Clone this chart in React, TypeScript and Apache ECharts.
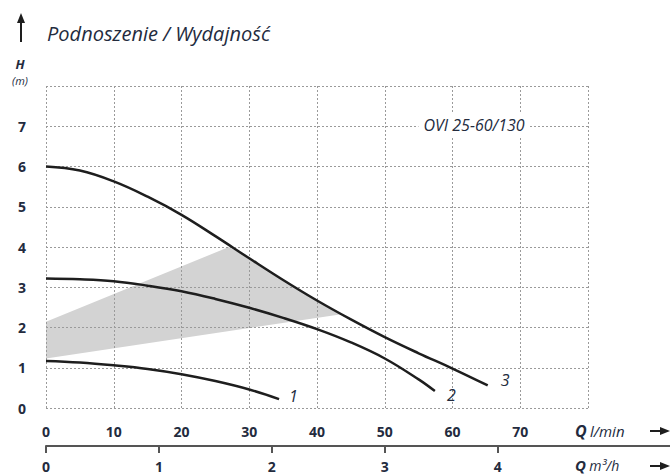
import { useEffect, useRef } from "react";
import * as echarts from "echarts";

// Axis ticks
const qLminTicks = [0, 10, 20, 30, 40, 50, 60, 70];
const hTicks = [0, 1, 2, 3, 4, 5, 6, 7];
const qM3hTicks = [0, 1, 2, 3, 4];

// Pump curves (Q in l/min, H in m)
const curve1Q = [0, 5, 10, 15, 20, 25, 30, 34.4];
const curve1H = [1.17, 1.13, 1.06, 0.97, 0.84, 0.67, 0.46, 0.22];

const curve2Q = [0, 5, 10, 15, 20, 25, 30, 35, 40, 45, 50, 55, 57.4];
const curve2H = [3.22, 3.2, 3.15, 3.04, 2.9, 2.71, 2.49, 2.24, 1.96, 1.63, 1.23, 0.71, 0.42];

const curve3Q = [0, 5, 10, 15, 20, 25, 30, 35, 40, 45, 50, 55, 60, 65.2];
const curve3H = [6.0, 5.9, 5.63, 5.25, 4.8, 4.27, 3.72, 3.18, 2.67, 2.2, 1.76, 1.36, 0.98, 0.56];

// Shaded operating region
const shadeUpperQ = [0, 27, 30, 35, 40, 43.6];
const shadeUpperH = [2.14, 4.0, 3.72, 3.18, 2.67, 2.33];
const shadeLowerQ = [0, 43.6];
const shadeLowerH = [1.23, 2.33];

const curveLabels = ["1", "2", "3"];
const modelName = "OVI 25-60/130";
const titleText = "Podnoszenie / Wydajność";

const LMIN_PER_M3H = 1000 / 60;

const textColor = "#232b3e";
const gridColor = "#9a9a9a";
const FONT = '"Open Sans", "Noto Sans", sans-serif';

const zip = (a: number[], b: number[]) => a.map((v, i) => [v, b[i]]);

export default function App() {
  const ref = useRef<HTMLDivElement>(null);

  useEffect(() => {
    if (!ref.current) return;
    const chart = echarts.init(ref.current, undefined, { renderer: "svg" });

    const curveSeries = (q: number[], h: number[], label: string, offset: number[]) => ({
      type: "line",
      data: zip(q, h),
      xAxisIndex: 0,
      yAxisIndex: 0,
      smooth: 0.4,
      showSymbol: false,
      symbol: "none",
      z: 3,
      lineStyle: { color: "#1e1e1e", width: 2.5 },
      endLabel: {
        show: true,
        formatter: label,
        offset,
        fontStyle: "italic",
        fontSize: 16,
        fontFamily: FONT,
        color: textColor,
      },
      silent: true,
    });

    const upper = zip(shadeUpperQ, shadeUpperH);
    const lower = zip(shadeLowerQ, shadeLowerH);

    const tickFont = { fontWeight: "bold", fontSize: 14, fontFamily: FONT, color: textColor };

    const option: any = {
      animation: false,
      grid: { left: 46, right: 82, top: 86, bottom: 68, containLabel: false },
      xAxis: [
        {
          type: "value",
          min: 0,
          max: 80,
          interval: 10,
          position: "bottom",
          z: 1,
          axisLine: { show: false },
          axisTick: { show: false },
          splitLine: { show: true, lineStyle: { color: gridColor, type: [2, 2], width: 1 } },
          axisLabel: {
            formatter: (v: number) => (qLminTicks.includes(v) ? String(v) : ""),
            ...tickFont,
            margin: 16,
          },
        },
        {
          type: "value",
          min: 0,
          max: 80 / LMIN_PER_M3H,
          interval: 1,
          position: "bottom",
          offset: 38,
          z: 1,
          axisLine: { show: true, lineStyle: { color: "#555", width: 2 } },
          axisTick: {
            show: true,
            length: 7,
            customValues: qM3hTicks,
            lineStyle: { color: "#555", width: 2 },
          },
          splitLine: { show: false },
          axisLabel: {
            customValues: qM3hTicks,
            formatter: (v: number) => String(v),
            ...tickFont,
            margin: 13,
          },
        },
      ],
      yAxis: {
        type: "value",
        min: 0,
        max: 8,
        interval: 1,
        z: 1,
        axisLine: { show: false },
        axisTick: { show: false },
        splitLine: { show: true, lineStyle: { color: gridColor, type: [2, 2], width: 1 } },
        axisLabel: {
          formatter: (v: number) => (hTicks.includes(v) ? String(v) : ""),
          ...tickFont,
          margin: 20,
        },
      },
      series: [
        {
          type: "custom",
          xAxisIndex: 0,
          yAxisIndex: 0,
          z: 0,
          silent: true,
          data: [[0, 0]],
          renderItem: (params: any, api: any) => {
            if (params.dataIndex !== 0) return null;
            const pts = [
              ...upper.map((p) => api.coord(p)),
              ...[...lower].reverse().map((p) => api.coord(p)),
            ];
            return {
              type: "polygon",
              shape: { points: pts },
              style: { fill: "#d3d3d3" },
            };
          },
        },
        curveSeries(curve1Q, curve1H, curveLabels[0], [2, -3]),
        curveSeries(curve2Q, curve2H, curveLabels[1], [4, 4]),
        curveSeries(curve3Q, curve3H, curveLabels[2], [5, -5]),
      ],
      graphic: [
        // up arrow
        { type: "line", shape: { x1: 21, y1: 42, x2: 21, y2: 20 }, style: { stroke: "#1e1e1e", lineWidth: 2 } },
        { type: "polygon", shape: { points: [[21, 13], [17, 23], [25, 23]] }, style: { fill: "#1e1e1e" } },
        {
          type: "text",
          x: 47,
          y: 33,
          style: {
            text: titleText,
            fontSize: 20,
            fontStyle: "italic",
            fontFamily: FONT,
            fill: textColor,
            verticalAlign: "middle",
          },
        },
        {
          type: "text",
          x: 20,
          y: 64,
          style: {
            text: "H",
            fontSize: 13,
            fontWeight: "bold",
            fontStyle: "italic",
            fontFamily: FONT,
            fill: textColor,
            align: "center",
            verticalAlign: "middle",
          },
        },
        {
          type: "text",
          x: 20,
          y: 80,
          style: {
            text: "(m)",
            fontSize: 11,
            fontStyle: "italic",
            fontFamily: FONT,
            fill: textColor,
            align: "center",
            verticalAlign: "middle",
          },
        },
        {
          type: "text",
          x: 474,
          y: 125,
          z: 10,
          style: {
            text: modelName,
            fontSize: 16,
            fontStyle: "italic",
            fontFamily: FONT,
            fill: textColor,
            align: "center",
            verticalAlign: "middle",
            backgroundColor: "#ffffff",
            padding: [3, 5],
          },
        },
        {
          type: "text",
          x: 575,
          y: 431,
          style: {
            text: "{q|Q} {u|l/min}",
            verticalAlign: "middle",
            rich: {
              q: { fontSize: 16, fontWeight: "bold", fontStyle: "italic", fontFamily: FONT, fill: textColor },
              u: { fontSize: 15, fontStyle: "italic", fontFamily: FONT, fill: textColor },
            },
          },
        },
        {
          type: "text",
          x: 575,
          y: 465,
          style: {
            text: "{q|Q} {u|m³/h}",
            verticalAlign: "middle",
            rich: {
              q: { fontSize: 15, lineHeight: 16, fontWeight: "bold", fontStyle: "italic", fontFamily: FONT, fill: textColor },
              u: { fontSize: 14, lineHeight: 16, fontStyle: "italic", fontFamily: FONT, fill: textColor },
            },
          },
        },
        { type: "line", shape: { x1: 650, y1: 431, x2: 662, y2: 431 }, style: { stroke: "#1e1e1e", lineWidth: 2 } },
        { type: "polygon", shape: { points: [[670, 431], [660, 427], [660, 435]] }, style: { fill: "#1e1e1e" } },
        { type: "line", shape: { x1: 650, y1: 466, x2: 662, y2: 466 }, style: { stroke: "#1e1e1e", lineWidth: 2 } },
        { type: "polygon", shape: { points: [[670, 466], [660, 462], [660, 470]] }, style: { fill: "#1e1e1e" } },
        // extension of the m3/h axis line
        { type: "line", shape: { x1: 588, y1: 446, x2: 670, y2: 446 }, style: { stroke: "#555", lineWidth: 2 } },
      ],
    };

    chart.setOption(option);
    return () => chart.dispose();
  }, []);

  return (
    <div
      ref={ref}
      style={{ position: "fixed", left: 0, top: 0, width: 670, height: 476, background: "#fff" }}
    />
  );
}
